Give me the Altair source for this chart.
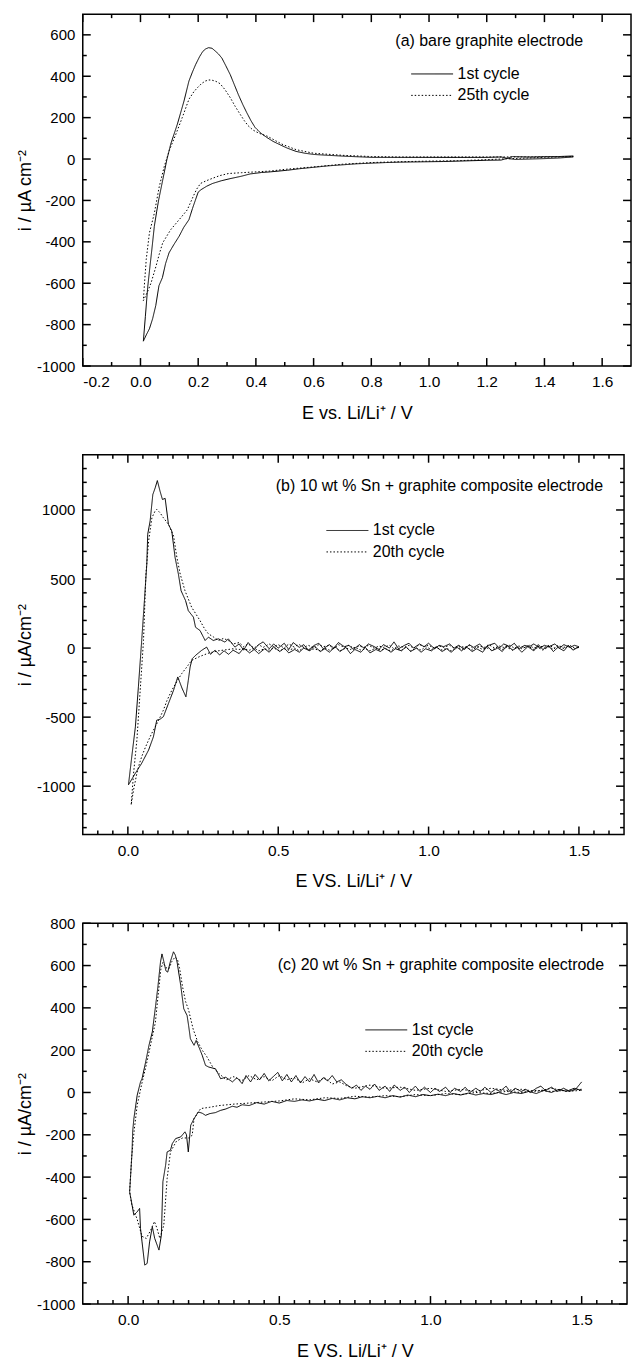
import altair as alt
import pandas as pd

FONT = "Liberation Sans"

# ---------------- panel (a): bare graphite electrode ----------------
A_NAMES = ["1st cycle", "25th cycle"]
A1_CATH = [(1.50, 10), (1.45, 5), (1.40, 2), (1.35, 0), (1.30, -2), (1.27, 3), (1.25, -5), (1.20, -6),
           (1.10, -10), (1.05, -12), (1.00, -13), (0.90, -15), (0.85, -17), (0.80, -20), (0.75, -23),
           (0.70, -28), (0.65, -33), (0.60, -40), (0.55, -47), (0.51, -54), (0.45, -62), (0.42, -65),
           (0.38, -72), (0.35, -83), (0.31, -95), (0.28, -105), (0.25, -118), (0.23, -131), (0.21, -148),
           (0.20, -160), (0.19, -200), (0.18, -240), (0.168, -293), (0.15, -330), (0.134, -373),
           (0.115, -415), (0.099, -453), (0.087, -505), (0.076, -573), (0.064, -612), (0.053, -708),
           (0.042, -772), (0.031, -820), (0.02, -850), (0.01, -880)]
A1_ANOD = [(0.01, -880), (0.017, -760), (0.025, -620), (0.033, -517), (0.040, -430), (0.048, -325),
           (0.056, -255), (0.063, -198), (0.077, -102), (0.091, -6), (0.105, 73), (0.128, 169),
           (0.151, 281), (0.168, 377), (0.180, 420), (0.191, 456), (0.205, 495), (0.216, 520),
           (0.226, 532), (0.236, 538), (0.248, 535), (0.259, 522), (0.270, 508), (0.282, 488),
           (0.296, 450), (0.311, 408), (0.325, 360), (0.339, 312), (0.354, 265), (0.368, 225),
           (0.383, 185), (0.397, 153), (0.417, 125), (0.437, 105), (0.46, 85), (0.488, 66), (0.51, 52),
           (0.539, 37), (0.57, 28), (0.602, 22), (0.65, 18), (0.716, 13), (0.77, 10), (0.80, 8),
           (0.90, 8), (1.00, 8), (1.10, 8), (1.20, 8), (1.25, 10), (1.27, 4), (1.29, 12), (1.35, 10),
           (1.40, 12), (1.45, 12), (1.50, 15)]
A25_CATH = [(1.50, 12), (1.40, 8), (1.30, 3), (1.20, -3), (1.10, -8), (1.00, -10), (0.90, -13),
            (0.80, -17), (0.70, -25), (0.60, -38), (0.50, -50), (0.45, -58), (0.40, -62), (0.35, -66),
            (0.305, -70), (0.275, -80), (0.248, -94), (0.228, -105), (0.208, -118), (0.195, -145),
            (0.185, -174), (0.162, -246), (0.134, -293), (0.105, -341), (0.09, -375), (0.077, -405),
            (0.065, -460), (0.054, -517), (0.037, -597), (0.025, -640), (0.01, -684)]
A25_ANOD = [(0.01, -684), (0.015, -580), (0.02, -485), (0.031, -357), (0.048, -262), (0.065, -134),
            (0.082, -38), (0.10, 42), (0.123, 121), (0.145, 201), (0.168, 289), (0.185, 325),
            (0.197, 344), (0.212, 365), (0.225, 377), (0.237, 382), (0.248, 381), (0.262, 375),
            (0.276, 364), (0.293, 335), (0.311, 297), (0.328, 255), (0.345, 217), (0.36, 185),
            (0.373, 161), (0.39, 140), (0.41, 125), (0.44, 110), (0.49, 72), (0.54, 45), (0.60, 28),
            (0.70, 18), (0.80, 12), (0.90, 10), (1.00, 10), (1.10, 10), (1.20, 10), (1.30, 10),
            (1.40, 10), (1.50, 12)]

# ---------------- panel (b): 10 wt % Sn + graphite ----------------
B_NAMES = ["1st cycle", "20th cycle"]
B1_CATH = [(1.500, 10), (1.480, -15), (1.465, 20), (1.450, -20), (1.430, 5), (1.415, -25), (1.400, 15),
           (1.380, -10), (1.365, 25), (1.350, -20), (1.330, 10), (1.310, -30), (1.295, 5), (1.280, -15),
           (1.260, 20), (1.245, -25), (1.230, 0), (1.210, -20), (1.195, 15), (1.180, -30), (1.160, -5),
           (1.145, -25), (1.125, 10), (1.110, -20), (1.095, 5), (1.075, -30), (1.060, -5), (1.045, -25),
           (1.025, 10), (1.010, -20), (0.990, -5), (0.975, -30), (0.960, 0), (0.940, -25), (0.925, 10),
           (0.910, -20), (0.890, -5), (0.875, -30), (0.855, 0), (0.840, -25), (0.825, -10), (0.805, -35),
           (0.790, 5), (0.775, -30), (0.755, -10), (0.740, -40), (0.725, 5), (0.705, -25), (0.690, 10),
           (0.670, -30), (0.655, -5), (0.640, -25), (0.620, 15), (0.605, -20), (0.585, 0), (0.570, -30),
           (0.555, -10), (0.535, -35), (0.520, 0), (0.505, -25), (0.485, 10), (0.470, -30), (0.455, -5),
           (0.435, -40), (0.420, -10), (0.405, -35), (0.385, 0), (0.370, -40), (0.350, -15), (0.335, -45),
           (0.320, -20), (0.305, -50), (0.290, -15), (0.275, -45), (0.262, 7), (0.245, -17), (0.225, -53),
           (0.214, -77), (0.207, -137), (0.201, -233), (0.193, -353), (0.180, -290), (0.166, -209),
           (0.152, -305), (0.135, -401), (0.118, -497), (0.107, -515), (0.096, -522), (0.085, -642),
           (0.069, -738), (0.046, -834), (0.025, -906), (0.002, -990)]
B1_ANOD = [(0.002, -990), (0.013, -786), (0.025, -570), (0.035, -281), (0.046, 55), (0.055, 343),
           (0.063, 608), (0.066, 824), (0.074, 920), (0.083, 1112), (0.091, 1161), (0.098, 1213),
           (0.107, 1136), (0.115, 1076), (0.124, 1084), (0.135, 896), (0.146, 848), (0.157, 656),
           (0.168, 536), (0.177, 415), (0.192, 343), (0.201, 271), (0.218, 224), (0.225, 151),
           (0.240, 127), (0.257, 55), (0.268, 79), (0.284, 55), (0.301, 67), (0.323, 43), (0.334, 67),
           (0.356, 7), (0.370, 30), (0.385, -15), (0.400, 40), (0.420, -10), (0.435, 25), (0.450, 45),
           (0.470, -5), (0.485, 30), (0.500, 0), (0.520, 35), (0.535, -10), (0.550, 40), (0.570, 5),
           (0.585, 25), (0.600, -15), (0.620, 20), (0.635, 35), (0.650, -5), (0.670, 25), (0.685, 0),
           (0.700, 40), (0.720, 10), (0.735, 20), (0.750, -10), (0.770, 25), (0.785, 0), (0.800, 30),
           (0.820, 10), (0.835, -10), (0.850, 25), (0.870, 0), (0.885, 45), (0.900, -5), (0.920, 20),
           (0.935, 35), (0.950, 0), (0.970, 30), (0.985, 10), (1.000, 35), (1.020, -5), (1.035, 20),
           (1.050, 10), (1.070, 30), (1.085, 0), (1.100, 20), (1.120, -10), (1.135, 25), (1.150, 5),
           (1.170, 30), (1.185, -5), (1.200, 20), (1.220, 35), (1.235, 0), (1.250, 30), (1.270, 10),
           (1.285, 35), (1.300, -5), (1.320, 20), (1.335, 10), (1.350, 30), (1.370, 0), (1.385, 20),
           (1.400, 10), (1.420, 30), (1.435, 0), (1.450, 25), (1.470, 5), (1.485, 20), (1.500, 10)]
B20_CATH = [(1.500, 5), (1.480, -10), (1.465, 15), (1.450, -5), (1.430, 20), (1.415, -10), (1.400, 10),
            (1.380, -15), (1.365, 5), (1.350, -10), (1.330, 15), (1.310, -5), (1.295, 10), (1.280, -15),
            (1.260, 5), (1.245, -10), (1.230, 10), (1.210, -15), (1.195, 0), (1.180, -10), (1.160, 10),
            (1.145, -15), (1.125, 5), (1.110, -10), (1.095, 10), (1.075, -20), (1.060, 0), (1.045, -15),
            (1.025, 5), (1.010, -10), (0.990, 10), (0.975, -15), (0.960, 0), (0.940, -20), (0.925, 5),
            (0.910, -15), (0.890, 0), (0.875, -20), (0.855, -5), (0.840, -15), (0.825, 0), (0.805, -20),
            (0.790, -5), (0.775, -15), (0.755, 5), (0.740, -10), (0.725, 0), (0.705, -20), (0.690, 5),
            (0.670, -15), (0.655, 0), (0.640, -20), (0.620, -5), (0.605, -15), (0.585, 5), (0.570, -20),
            (0.555, 0), (0.535, -15), (0.520, -5), (0.505, -20), (0.485, 0), (0.470, -15), (0.455, -5),
            (0.435, -20), (0.420, 0), (0.405, -15), (0.385, -5), (0.370, -10), (0.350, -5), (0.334, -10),
            (0.300, -20), (0.270, -35), (0.240, -60), (0.212, -89), (0.195, -140), (0.179, -185),
            (0.162, -245), (0.146, -306), (0.130, -380), (0.118, -450), (0.105, -510), (0.091, -570),
            (0.080, -615), (0.069, -666), (0.058, -720), (0.046, -786), (0.038, -840), (0.030, -906),
            (0.019, -1026), (0.011, -1135)]
B20_ANOD = [(0.011, -1135), (0.019, -906), (0.030, -666), (0.041, -306), (0.052, 55), (0.060, 536),
            (0.069, 776), (0.080, 944), (0.090, 990), (0.096, 1004), (0.107, 980), (0.118, 944),
            (0.135, 896), (0.152, 812), (0.163, 656), (0.174, 536), (0.190, 415), (0.212, 296),
            (0.240, 199), (0.255, 140), (0.268, 103), (0.285, 80), (0.301, 55), (0.318, 70), (0.334, 55),
            (0.350, 30), (0.370, 40), (0.385, 10), (0.400, 30), (0.420, 0), (0.435, 25), (0.450, 5),
            (0.470, 30), (0.485, 10), (0.500, 25), (0.520, 0), (0.535, 30), (0.550, 10), (0.570, 25),
            (0.585, 5), (0.600, 20), (0.620, 0), (0.635, 25), (0.650, 10), (0.670, 20), (0.685, -5),
            (0.700, 25), (0.720, 5), (0.735, 20), (0.750, 0), (0.770, 15), (0.785, 5), (0.800, 20),
            (0.820, 0), (0.835, 15), (0.850, 5), (0.870, 20), (0.885, -5), (0.900, 15), (0.920, 5),
            (0.935, 20), (0.950, 0), (0.970, 25), (0.985, 10), (1.000, 20), (1.020, 0), (1.035, 15),
            (1.050, 5), (1.070, 20), (1.085, 0), (1.100, 15), (1.120, 5), (1.135, 20), (1.150, -5),
            (1.170, 15), (1.185, 5), (1.200, 25), (1.220, 0), (1.235, 15), (1.250, 5), (1.270, 20),
            (1.285, 0), (1.300, 15), (1.320, 5), (1.335, 20), (1.350, 0), (1.370, 15), (1.385, 5),
            (1.400, 20), (1.420, 0), (1.435, 15), (1.450, 5), (1.470, 20), (1.485, 0), (1.500, 5)]

# ---------------- panel (c): 20 wt % Sn + graphite ----------------
C_NAMES = ["1st cycle", "20th cycle"]
C1_CATH = [(1.500, 10), (1.475, 20), (1.450, 5), (1.425, 15), (1.400, 0), (1.375, 10), (1.350, -5),
           (1.325, 5), (1.300, -5), (1.275, 0), (1.250, -10), (1.225, 0), (1.200, -10), (1.175, -5),
           (1.150, -12), (1.125, -3), (1.100, -12), (1.075, -5), (1.050, -15), (1.025, -8), (1.000, -15),
           (0.975, -10), (0.950, -20), (0.925, -12), (0.900, -22), (0.875, -15), (0.850, -25), (0.825, -18),
           (0.800, -25), (0.775, -20), (0.750, -30), (0.725, -25), (0.700, -35), (0.675, -28), (0.650, -38),
           (0.625, -32), (0.600, -40), (0.575, -35), (0.550, -42), (0.525, -38), (0.500, -50), (0.475, -42),
           (0.450, -55), (0.425, -48), (0.400, -62), (0.377, -58), (0.360, -70), (0.345, -65), (0.323, -78),
           (0.305, -85), (0.289, -95), (0.270, -100), (0.256, -108), (0.245, -98), (0.232, -92),
           (0.218, -124), (0.207, -155), (0.199, -281), (0.193, -200), (0.188, -186), (0.174, -210),
           (0.157, -218), (0.146, -242), (0.140, -273), (0.129, -281), (0.124, -344), (0.115, -422),
           (0.110, -674), (0.102, -745), (0.088, -690), (0.080, -635), (0.071, -706), (0.063, -808),
           (0.055, -816), (0.046, -706), (0.041, -643), (0.038, -548), (0.030, -564), (0.019, -580),
           (0.009, -500), (0.005, -470)]
C1_ANOD = [(0.005, -470), (0.013, -281), (0.015, -186), (0.019, -124), (0.030, -13), (0.041, 50),
           (0.046, 65), (0.058, 144), (0.069, 223), (0.080, 286), (0.091, 411), (0.099, 506),
           (0.107, 616), (0.112, 655), (0.118, 620), (0.125, 575), (0.131, 569), (0.140, 620),
           (0.150, 665), (0.156, 650), (0.162, 616), (0.174, 506), (0.184, 396), (0.195, 364),
           (0.200, 317), (0.206, 254), (0.218, 223), (0.225, 246), (0.234, 215), (0.245, 176),
           (0.256, 128), (0.267, 120), (0.289, 112), (0.306, 65), (0.323, 72), (0.345, 50), (0.360, 70),
           (0.377, 42), (0.390, 80), (0.405, 50), (0.420, 85), (0.435, 60), (0.450, 90), (0.465, 55),
           (0.480, 75), (0.495, 95), (0.510, 55), (0.525, 85), (0.540, 50), (0.555, 80), (0.570, 45),
           (0.585, 75), (0.600, 50), (0.615, 85), (0.630, 45), (0.645, 70), (0.660, 55), (0.675, 80),
           (0.690, 50), (0.705, 60), (0.720, 40), (0.740, 20), (0.755, 35), (0.770, 10), (0.785, 30),
           (0.800, 15), (0.815, 40), (0.830, 10), (0.850, 30), (0.865, 5), (0.880, 35), (0.900, 10),
           (0.915, 25), (0.930, 0), (0.950, 30), (0.965, 5), (0.980, 25), (1.000, 0), (1.015, 20),
           (1.030, 5), (1.050, 25), (1.065, 0), (1.080, 20), (1.100, 5), (1.115, 25), (1.130, 0),
           (1.150, 20), (1.165, 5), (1.180, 25), (1.200, 0), (1.215, 15), (1.230, 5), (1.250, 30),
           (1.265, 0), (1.280, 20), (1.300, 5), (1.315, 15), (1.330, 0), (1.350, 20), (1.365, 30),
           (1.380, 10), (1.400, 25), (1.420, 5), (1.440, 20), (1.460, 5), (1.480, 15), (1.500, 50)]
C20_CATH = [(1.50, 15), (1.45, 10), (1.40, 5), (1.35, 10), (1.30, 0), (1.25, 5), (1.20, -5), (1.15, 0),
            (1.10, -10), (1.05, -5), (1.00, -15), (0.95, -10), (0.90, -20), (0.85, -15), (0.80, -22),
            (0.75, -18), (0.70, -28), (0.65, -25), (0.60, -35), (0.55, -30), (0.50, -40), (0.45, -45),
            (0.40, -50), (0.35, -55), (0.30, -62), (0.27, -70), (0.24, -76), (0.218, -124), (0.212, -202),
            (0.200, -215), (0.180, -215), (0.160, -230), (0.140, -281), (0.129, -407), (0.118, -627),
            (0.105, -690), (0.095, -640), (0.087, -610), (0.075, -650), (0.060, -690), (0.046, -680),
            (0.030, -600), (0.012, -530), (0.005, -470)]
C20_ANOD = [(0.005, -470), (0.012, -300), (0.020, -180), (0.030, -60), (0.045, 40), (0.060, 130),
            (0.075, 230), (0.090, 330), (0.100, 470), (0.108, 580), (0.115, 615), (0.125, 590),
            (0.135, 585), (0.145, 620), (0.155, 640), (0.163, 630), (0.170, 590), (0.180, 500),
            (0.190, 430), (0.200, 390), (0.215, 300), (0.230, 240), (0.245, 200), (0.260, 170),
            (0.280, 120), (0.300, 90), (0.325, 60), (0.350, 75), (0.375, 55), (0.400, 80), (0.425, 60),
            (0.450, 75), (0.475, 55), (0.500, 80), (0.525, 60), (0.550, 70), (0.575, 45), (0.600, 65),
            (0.625, 50), (0.650, 70), (0.675, 40), (0.700, 50), (0.725, 30), (0.750, 20), (0.800, 35),
            (0.850, 20), (0.900, 25), (0.950, 10), (1.000, 20), (1.050, 5), (1.100, 15), (1.150, 5),
            (1.200, 20), (1.250, 10), (1.300, 15), (1.350, 5), (1.400, 20), (1.450, 5), (1.500, 10)]

# ---------------- axis tick values / labels ----------------
A_XMAJ = [-0.2, 0.0, 0.2, 0.4, 0.6, 0.8, 1.0, 1.2, 1.4, 1.6]
A_XMIN = [-0.1, 0.1, 0.3, 0.5, 0.7, 0.9, 1.1, 1.3, 1.5]
A_YMAJ = [-1000, -800, -600, -400, -200, 0, 200, 400, 600]
A_YMIN = [-900, -700, -500, -300, -100, 100, 300, 500]
BC_XMAJ = [0.0, 0.5, 1.0, 1.5]
BC_XMIN = [-0.1, -0.05, 0.05, 0.1, 0.15, 0.2, 0.25, 0.3, 0.35, 0.4, 0.45, 0.55, 0.6, 0.65, 0.7, 0.75,
           0.8, 0.85, 0.9, 0.95, 1.05, 1.1, 1.15, 1.2, 1.25, 1.3, 1.35, 1.4, 1.45, 1.55, 1.6]
B_YMAJ = [-1000, -500, 0, 500, 1000]
B_YMIN = [-1300, -1200, -1100, -900, -800, -700, -600, -400, -300, -200, -100, 100, 200, 300, 400,
          600, 700, 800, 900, 1100, 1200, 1300]
C_YMAJ = [-1000, -800, -600, -400, -200, 0, 200, 400, 600, 800]
C_YMIN = [-900, -700, -500, -300, -100, 100, 300, 500, 700]

# inward tick glyphs: unit path scaled by sqrt(size)/2 -> 8 px (major) and 4 px (minor)
MAJ_SIZE, MIN_SIZE = 256, 64
SHAPES = {"bottom": "M0,0V-1", "top": "M0,0V1", "left": "M0,0H1", "right": "M0,0H-1"}


def panel(names, series, xdom, ydom, xmaj, xmin, ymaj, ymin, xtitle, ytitle, title,
          tdx, toff, legx, legy, w, h):
    rows = []
    for name, branches in zip(names, series):
        k = 0
        for br in branches:
            for e, v in br:
                rows.append({"E": e, "I": v, "cycle": name, "k": k})
                k += 1
    df = pd.DataFrame(rows)
    xs = alt.Scale(domain=xdom, nice=False, zero=False)
    ys = alt.Scale(domain=ydom, nice=False, zero=False)
    xaxis = alt.Axis(values=xmaj, format=".1f", ticks=False, domain=False, grid=False,
                     labelPadding=9, labelFontSize=15.5, labelOverlap=False, title=xtitle,
                     titleFontSize=18, titlePadding=14)
    yaxis = alt.Axis(values=ymaj, format="d", ticks=False, domain=False, grid=False,
                     labelPadding=8, labelFontSize=15, labelOverlap=False, title=ytitle,
                     titleFontSize=18, titlePadding=2)
    main = alt.Chart(df).mark_line(color="black", strokeWidth=1).encode(
        x=alt.X("E:Q", scale=xs, axis=xaxis),
        y=alt.Y("I:Q", scale=ys, axis=yaxis),
        strokeDash=alt.StrokeDash("cycle:N", scale=alt.Scale(domain=names, range=[[1, 0], [1.5, 2]]),
                                  legend=alt.Legend(orient="none", legendX=legx, legendY=legy,
                                                    title=None, symbolType="M-2.1,0H2.1", symbolSize=400,
                                                    symbolStrokeWidth=1, symbolStrokeColor="black",
                                                    symbolFillColor="transparent",
                                                    labelFontSize=16, labelFont=FONT, labelColor="black",
                                                    rowPadding=2.5, labelOffset=15, padding=0)),
        order="k:Q",
    )

    def xticks(vals, side, size):
        d = pd.DataFrame({"E": vals})
        return alt.Chart(d).mark_point(shape=SHAPES[side], size=size, filled=False, color="black",
                                       strokeWidth=1.5, opacity=1).encode(
            x=alt.X("E:Q", scale=xs), y=alt.value(h if side == "bottom" else 0))

    def yticks(vals, side, size):
        d = pd.DataFrame({"I": vals})
        return alt.Chart(d).mark_point(shape=SHAPES[side], size=size, filled=False, color="black",
                                       strokeWidth=1.5, opacity=1).encode(
            y=alt.Y("I:Q", scale=ys), x=alt.value(0 if side == "left" else w))

    layers = [main,
              xticks(xmaj, "bottom", MAJ_SIZE), xticks(xmin, "bottom", MIN_SIZE),
              xticks(xmaj, "top", MAJ_SIZE), xticks(xmin, "top", MIN_SIZE),
              yticks(ymaj, "left", MAJ_SIZE), yticks(ymin, "left", MIN_SIZE),
              yticks(ymaj, "right", MAJ_SIZE), yticks(ymin, "right", MIN_SIZE)]
    return alt.layer(*layers).properties(
        width=w, height=h,
        title=alt.TitleParams(text=title, anchor="end", frame="group", orient="top", offset=toff,
                              dx=tdx, baseline="middle", fontSize=16, fontWeight="normal",
                              font=FONT, color="black"))


pa = panel(A_NAMES, [[A1_CATH, A1_ANOD], [A25_CATH, A25_ANOD]], [-0.2, 1.7], [-1000, 700],
           A_XMAJ, A_XMIN, A_YMAJ, A_YMIN, "E vs. Li/Li\u207a / V", "i / \u00b5A cm\u207b\u00b2",
           "(a) bare graphite electrode", -48, -46, 340, 49.5, 550, 353)
pb = panel(B_NAMES, [[B1_CATH, B1_ANOD], [B20_CATH, B20_ANOD]], [-0.15, 1.65], [-1350, 1400],
           BC_XMAJ, BC_XMIN, B_YMAJ, B_YMIN, "E VS. Li/Li\u207a / V", "i / \u00b5A/cm\u207b\u00b2",
           "(b) 10 wt % Sn + graphite composite electrode", -21, -50, 255, 65.5, 543, 381)
pc = panel(C_NAMES, [[C1_CATH, C1_ANOD], [C20_CATH, C20_ANOD]], [-0.15, 1.65], [-1000, 800],
           BC_XMAJ, BC_XMIN, C_YMAJ, C_YMIN, "E VS. Li/Li\u207a / V", "i / \u00b5A/cm\u207b\u00b2",
           "(c) 20 wt % Sn + graphite composite electrode", -23, -65, 294, 96.5, 546, 382)

chart = alt.vconcat(pa, pb, pc, spacing=89, bounds="flush").resolve_scale(
    strokeDash="independent").resolve_legend(strokeDash="independent").properties(
    padding={"left": 7, "top": 0, "right": 0, "bottom": 0}
).configure_view(stroke="black", strokeWidth=1.5).configure_axis(
    labelFont=FONT, titleFont=FONT, labelColor="black", titleColor="black",
    titleFontWeight="normal")

LOCALE = {"decimal": ".", "thousands": ",", "grouping": [3], "currency": ["$", ""], "minus": "-"}
chart.save("out.html", embed_options={"renderer": "svg", "actions": False, "formatLocale": LOCALE})
